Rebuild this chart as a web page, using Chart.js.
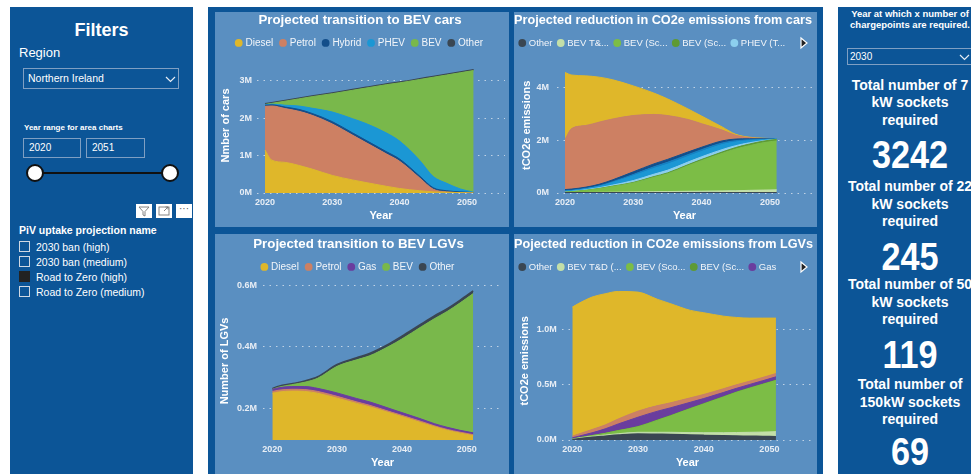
<!DOCTYPE html>
<html>
<head>
<meta charset="utf-8">
<title>BEV transition dashboard</title>
<script src="https://cdn.jsdelivr.net/npm/chart.js@4.4.1/dist/chart.umd.min.js"></script>
<style>
  html, body { margin: 0; padding: 0; }
  body { width: 971px; height: 474px; overflow: hidden; position: relative; background: #fff;
         font-family: 'Liberation Sans', Arial, sans-serif; color: #fff; }
  .panel { position: absolute; background: #0c5597; }
  .tile { position: absolute; background: #5a8fc1; }
  .tile canvas { display: block; }
  .abs { position: absolute; white-space: nowrap; }
  .box { position: absolute; box-sizing: border-box; border: 1px solid #7f9fc3; font-size: 10px; white-space: nowrap; }
  .chk { position: absolute; left: 19px; width: 11px; height: 11px; box-sizing: border-box; border: 1px solid #cfd8e3; }
  .chk-label { position: absolute; left: 36px; font-size: 10.5px; line-height: 14px; white-space: nowrap; }
  .icon { position: absolute; top: 204px; width: 16px; height: 14px; background: #fff; }
  .stat { position: absolute; left: 838px; width: 144px; text-align: center; font-weight: bold; font-size: 14px; line-height: 17.5px; }
  .num { position: absolute; left: 838px; width: 144px; text-align: center; font-weight: bold; font-size: 38px; line-height: 40px; transform: scaleX(0.9); }
</style>
</head>
<body>

<!-- filter panel -->
<div class="panel" style="left:10px; top:7px; width:183px; height:467px;"></div>
<div class="abs" style="left:10px; width:183px; top:19px; text-align:center; font-size:18px; font-weight:bold; line-height:22px;">Filters</div>
<div class="abs" style="left:19px; top:45px; font-size:13px; line-height:16px;">Region</div>
<div class="box" style="left:23px; top:68px; width:156px; height:21px; line-height:19px; padding-left:4px; font-size:10.5px;">Northern Ireland</div>
<svg class="abs" style="left:165px; top:76px;" width="11" height="7"><polyline points="1,1 5.5,5.5 10,1" fill="none" stroke="#e6edf5" stroke-width="1.2"/></svg>
<div class="abs" style="left:24px; top:123px; font-size:8px; font-weight:bold; line-height:10px;">Year range for area charts</div>
<div class="box" style="left:23px; top:138px; width:58px; height:20px; line-height:18px; padding-left:5px;">2020</div>
<div class="box" style="left:86px; top:138px; width:59px; height:20px; line-height:18px; padding-left:5px;">2051</div>
<div class="abs" style="left:35px; top:172px; width:135px; height:2px; background:#111;"></div>
<div class="abs" style="left:26px; top:164px; width:18px; height:18px; box-sizing:border-box; border:2px solid #111; border-radius:50%; background:#fff;"></div>
<div class="abs" style="left:161px; top:164px; width:18px; height:18px; box-sizing:border-box; border:2px solid #111; border-radius:50%; background:#fff;"></div>
<div class="icon" style="left:136px;"><svg width="16" height="14"><path d="M3,3 H13 L9,7.5 V12 L7,11 V7.5 Z" fill="none" stroke="#777" stroke-width="0.9"/></svg></div>
<div class="icon" style="left:156px;"><svg width="16" height="14"><rect x="3" y="3" width="10" height="8" fill="none" stroke="#777" stroke-width="0.9"/><path d="M8,7 L12,3 M9.5,3 H12 V5.5" fill="none" stroke="#777" stroke-width="0.9"/></svg></div>
<div class="icon" style="left:176px; color:#555; font-size:10px; line-height:10px; text-align:center;">&middot;&middot;&middot;</div>
<div class="abs" style="left:19px; top:223px; font-size:10.5px; font-weight:bold; line-height:14px;">PiV uptake projection name</div>
<div class="chk" style="top:241px;"></div><div class="chk-label" style="top:239.5px;">2030 ban (high)</div>
<div class="chk" style="top:256px;"></div><div class="chk-label" style="top:254.5px;">2030 ban (medium)</div>
<div class="chk" style="top:271px; background:#222; border-color:#222;"></div><div class="chk-label" style="top:269.5px;">Road to Zero (high)</div>
<div class="chk" style="top:286px;"></div><div class="chk-label" style="top:284.5px;">Road to Zero (medium)</div>

<!-- chart panel -->
<div class="panel" style="left:208px; top:7px; width:615px; height:467px;"></div>
<div class="tile" style="left:215px; top:12px; width:294px; height:215px;"><canvas id="carChart" width="294" height="215"></canvas></div>
<div class="tile" style="left:514px; top:12px; width:303px; height:215px;"><canvas id="carCo2Chart" width="303" height="215"></canvas></div>
<div class="tile" style="left:215px; top:234px; width:294px; height:240px;"><canvas id="lgvChart" width="294" height="240"></canvas></div>
<div class="tile" style="left:514px; top:234px; width:303px; height:240px;"><canvas id="lgvCo2Chart" width="303" height="240"></canvas></div>

<!-- chargepoint panel -->
<div class="panel" style="left:838px; top:7px; width:144px; height:467px;"></div>
<div class="abs" style="left:838px; width:144px; top:9px; text-align:center; font-size:9.5px; font-weight:bold; line-height:10.5px;">Year at which x number of<br>chargepoints are required.</div>
<div class="box" style="left:847px; top:48px; width:135px; height:17px; line-height:15px; padding-left:2px;">2030</div>
<svg class="abs" style="left:959px; top:54px;" width="11" height="7"><polyline points="1,1 5.5,5.5 10,1" fill="none" stroke="#e6edf5" stroke-width="1.2"/></svg>
<div class="stat" style="top:76.5px;">Total number of 7<br>kW sockets<br>required</div>
<div class="num" style="top:135px;">3242</div>
<div class="stat" style="top:178px;">Total number of 22<br>kW sockets<br>required</div>
<div class="num" style="top:236.7px;">245</div>
<div class="stat" style="top:276.3px;">Total number of 50<br>kW sockets<br>required</div>
<div class="num" style="top:335px;">119</div>
<div class="stat" style="top:376.3px;">Total number of<br>150kW sockets<br>required</div>
<div class="num" style="top:431.7px;">69</div>

<script>
const FONT = "'Liberation Sans', Arial, sans-serif";

// shared x values (years) for every area chart
const years = [2020, 2021, 2023, 2025, 2027, 2030, 2033, 2035, 2038, 2040, 2043, 2045, 2047, 2049, 2051];
const yearTicks = [2020, 2030, 2040, 2050];

// cars on the road, millions
const carSeries = ['Diesel', 'Petrol', 'Hybrid', 'PHEV', 'BEV', 'Other'];
const carDiesel = [1.15, 0.88, 0.82, 0.74, 0.64, 0.47, 0.35, 0.28, 0.18, 0.12, 0.06, 0.03, 0.02, 0.01, 0.0];
const carPetrol = [1.17, 1.45, 1.44, 1.45, 1.44, 1.38, 1.20, 1.07, 0.87, 0.73, 0.34, 0.07, 0.01, 0.0, 0.0];
const carHybrid = [0.03, 0.03, 0.04, 0.05, 0.05, 0.06, 0.06, 0.06, 0.06, 0.06, 0.05, 0.04, 0.03, 0.02, 0.01];
const carPhev = [0.01, 0.02, 0.05, 0.09, 0.14, 0.26, 0.38, 0.45, 0.50, 0.48, 0.42, 0.30, 0.20, 0.08, 0.01];
const carBev = [0.01, 0.02, 0.11, 0.19, 0.31, 0.49, 0.76, 0.95, 1.29, 1.56, 2.17, 2.66, 2.90, 3.11, 3.26];
const carOther = [0.02, 0.02, 0.02, 0.02, 0.02, 0.02, 0.02, 0.02, 0.02, 0.02, 0.02, 0.02, 0.02, 0.02, 0.02];
const carTicks = [0, 1, 2, 3];

// car emissions, million tCO2e
const carCo2Series = ['Other', 'BEV T&...', 'BEV (Sc...', 'BEV (Sc...', 'PHEV (T...', 'PHEV', 'PHEV ', 'Hybrid', 'Petrol', 'Diesel'];
const carCo2Other = [0.01, 0.01, 0.01, 0.01, 0.01, 0.01, 0.01, 0.01, 0.01, 0.01, 0.01, 0.01, 0.01, 0.01, 0.01];
const carCo2BevTd = [0.005, 0.007, 0.01, 0.015, 0.02, 0.03, 0.04, 0.045, 0.055, 0.06, 0.07, 0.075, 0.09, 0.10, 0.11];
const carCo2BevS1 = [0.013, 0.03, 0.075, 0.135, 0.215, 0.34, 0.54, 0.67, 0.965, 1.155, 1.42, 1.58, 1.69, 1.79, 1.85];
const carCo2BevS2 = [0.002, 0.003, 0.005, 0.01, 0.015, 0.02, 0.03, 0.035, 0.04, 0.045, 0.05, 0.055, 0.06, 0.06, 0.06];
const carCo2PhevTd = [0.01, 0.01, 0.02, 0.03, 0.04, 0.07, 0.09, 0.10, 0.10, 0.10, 0.09, 0.07, 0.05, 0.02, 0.005];
const carCo2PhevS1 = [0.03, 0.03, 0.04, 0.05, 0.10, 0.18, 0.22, 0.23, 0.21, 0.20, 0.19, 0.14, 0.08, 0.04, 0.007];
const carCo2PhevS2 = [0.01, 0.01, 0.01, 0.02, 0.03, 0.05, 0.06, 0.07, 0.07, 0.07, 0.06, 0.05, 0.03, 0.01, 0.003];
const carCo2Hybrid = [0.05, 0.05, 0.05, 0.06, 0.07, 0.10, 0.11, 0.11, 0.10, 0.09, 0.08, 0.06, 0.04, 0.02, 0.005];
const carCo2Petrol = [1.90, 2.29, 2.33, 2.35, 2.30, 2.13, 1.87, 1.66, 1.23, 0.89, 0.41, 0.14, 0.04, 0.01, 0.0];
const carCo2Diesel = [2.53, 2.02, 1.88, 1.70, 1.48, 1.12, 0.81, 0.63, 0.40, 0.29, 0.12, 0.04, 0.02, 0.01, 0.0];
const carCo2Ticks = [0, 2, 4];

// LGVs on the road, millions
const lgvSeries = ['Diesel', 'Petrol', 'Gas', 'BEV', 'Other'];
const lgvDiesel = [0.249, 0.253, 0.256, 0.255, 0.249, 0.233, 0.216, 0.205, 0.186, 0.173, 0.153, 0.140, 0.128, 0.119, 0.111];
const lgvPetrol = [0.006, 0.006, 0.006, 0.006, 0.006, 0.006, 0.005, 0.005, 0.004, 0.004, 0.004, 0.003, 0.003, 0.003, 0.003];
const lgvGas = [0.007, 0.008, 0.009, 0.010, 0.010, 0.011, 0.011, 0.011, 0.010, 0.009, 0.008, 0.007, 0.007, 0.006, 0.006];
const lgvBev = [0.0, 0.002, 0.006, 0.014, 0.033, 0.087, 0.126, 0.150, 0.202, 0.240, 0.301, 0.342, 0.378, 0.416, 0.454];
const lgvOther = [0.002, 0.003, 0.003, 0.004, 0.005, 0.006, 0.007, 0.008, 0.008, 0.009, 0.009, 0.009, 0.009, 0.009, 0.009];
const lgvTicks = [0.2, 0.4, 0.6];

// LGV emissions, million tCO2e
const lgvCo2Series = ['Other', 'BEV T&D (...', 'BEV (Sco...', 'BEV (Sc...', 'Gas', 'Petrol', 'Diesel'];
const lgvCo2Other = [0.005, 0.012, 0.025, 0.035, 0.045, 0.055, 0.052, 0.05, 0.045, 0.042, 0.038, 0.036, 0.034, 0.032, 0.03];
const lgvCo2BevTd = [0.003, 0.005, 0.008, 0.01, 0.012, 0.015, 0.018, 0.02, 0.022, 0.024, 0.028, 0.032, 0.036, 0.04, 0.046];
const lgvCo2BevS1 = [0.002, 0.003, 0.007, 0.015, 0.028, 0.05, 0.11, 0.15, 0.218, 0.261, 0.324, 0.365, 0.40, 0.433, 0.464];
const lgvCo2BevS2 = [0.0, 0.0, 0.0, 0.001, 0.001, 0.002, 0.002, 0.003, 0.003, 0.003, 0.003, 0.003, 0.003, 0.003, 0.003];
const lgvCo2Gas = [0.01, 0.015, 0.025, 0.04, 0.06, 0.085, 0.08, 0.07, 0.055, 0.046, 0.038, 0.033, 0.031, 0.03, 0.03];
const lgvCo2Petrol = [0.015, 0.02, 0.03, 0.035, 0.045, 0.055, 0.05, 0.045, 0.04, 0.037, 0.034, 0.032, 0.03, 0.03, 0.03];
const lgvCo2Diesel = [1.171, 1.185, 1.202, 1.191, 1.157, 1.08, 0.964, 0.898, 0.793, 0.742, 0.659, 0.611, 0.572, 0.538, 0.503];
const lgvCo2Ticks = [0, 0.5, 1.0];

const YELLOW = '#dfb72a', SALMON = '#cd8063', NAVY = '#134e8a', BLUE = '#1b97d4', GREEN = '#79b84b',
      DARK = '#3a4652', PURPLE = '#6a3d9e', PALEGREEN = '#c3dfa8', BRIGHTGREEN = '#7cbd46',
      DEEPGREEN = '#5e9a34', PALEBLUE = '#8ccfee', MIDBLUE = '#1581c2';

// small "more items" arrow that sits at the right end of a clipped legend
const legendArrow = {
    id: 'legendArrow',
    afterDraw: function (chart, args, opts) {
        if (!opts.show) return;
        const ctx = chart.ctx;
        const x = chart.width - 16;
        const y = opts.y;
        ctx.save();
        ctx.beginPath();
        ctx.moveTo(x, y - 5);
        ctx.lineTo(x + 6, y);
        ctx.lineTo(x, y + 5);
        ctx.closePath();
        ctx.fillStyle = '#222';
        ctx.fill();
        ctx.strokeStyle = '#fff';
        ctx.lineWidth = 1.2;
        ctx.stroke();
        ctx.restore();
    }
};

function stackedArea(id, o) {
    const datasets = o.series.map((name, i) => ({
        label: name,
        data: o.values[i].map((v, j) => ({ x: years[j], y: v })),
        backgroundColor: o.colors[i],
        borderColor: o.colors[i],
        borderWidth: name === 'Other' ? 1.5 : 1,
        fill: i === 0 ? 'origin' : '-1',
        pointRadius: 0,
        pointHoverRadius: 0,
        cubicInterpolationMode: 'monotone'
    }));

    const tickFont = { family: FONT, size: 9, weight: 'bold' };
    const titleFont = { family: FONT, size: 11, weight: 'bold' };
    const clipped = o.legendCount < o.series.length;

    return new Chart(document.getElementById(id), {
        type: 'line',
        data: { datasets: datasets },
        plugins: [legendArrow],
        options: {
            responsive: false,
            animation: false,
            events: [],
            layout: { padding: { top: o.padTop, right: o.padRight, left: 0, bottom: 0 } },
            plugins: {
                title: {
                    display: true,
                    text: o.title,
                    color: '#ffffff',
                    font: { family: FONT, size: 13.3, weight: 'bold' },
                    padding: { top: 0.5, bottom: clipped ? 3.3 : 1.5 }
                },
                legend: {
                    position: 'top',
                    align: clipped ? 'start' : 'center',
                    labels: {
                        color: '#f2f5f9',
                        font: { family: FONT, size: clipped ? 9.5 : 10 },
                        usePointStyle: true,
                        pointStyle: 'circle',
                        boxWidth: 3.5,
                        boxHeight: 5.5,
                        padding: clipped ? 6.5 : 8,
                        filter: item => item.datasetIndex < o.legendCount,
                        generateLabels: chart => Chart.defaults.plugins.legend.labels.generateLabels(chart)
                            .map(l => Object.assign(l, { lineWidth: 0 }))
                    }
                },
                tooltip: { enabled: false },
                legendArrow: { show: clipped, y: 31 + o.padTop }
            },
            scales: {
                x: {
                    type: 'linear',
                    min: o.xMin,
                    max: o.xMax,
                    afterBuildTicks: s => { s.ticks = yearTicks.map(v => ({ value: v })); },
                    afterFit: s => { s.height = 34; },
                    grid: { display: false, drawTicks: false },
                    border: { display: false },
                    ticks: { color: '#e8eef5', font: tickFont, padding: 4, maxRotation: 0, autoSkip: false,
                             callback: v => String(v) },
                    title: { display: true, text: 'Year', color: '#ffffff', font: titleFont,
                             padding: { top: 0, bottom: 4 } }
                },
                y: {
                    stacked: true,
                    min: o.yMin,
                    max: o.yMax,
                    afterBuildTicks: s => { s.ticks = o.yTicks.map(v => ({ value: v })); },
                    afterFit: s => { s.width = o.yWidth; },
                    grid: { color: 'rgba(225,232,240,0.75)', lineWidth: 1, drawTicks: false },
                    border: { display: false, dash: [1.5, 5] },
                    ticks: { color: '#e8eef5', font: tickFont, padding: o.yTickPad, autoSkip: false,
                             callback: v => v.toFixed(o.decimals) + 'M' },
                    title: { display: true, text: o.yTitle, color: '#ffffff', font: titleFont,
                             padding: { top: o.yTitlePad, bottom: 0 } }
                }
            }
        }
    });
}

stackedArea('carChart', {
    title: 'Projected transition to BEV cars',
    yTitle: 'Nmber of cars',
    series: carSeries,
    values: [carDiesel, carPetrol, carHybrid, carPhev, carBev, carOther],
    colors: [YELLOW, SALMON, NAVY, BLUE, GREEN, DARK],
    legendCount: 6,
    padTop: 0, padRight: 4, yWidth: 42, yTickPad: 5, yTitlePad: 4.4,
    xMin: 2018.81, xMax: 2055.66,
    yMin: 0, yMax: 3.616, yTicks: carTicks, decimals: 0
});

stackedArea('carCo2Chart', {
    title: 'Projected reduction in CO2e emissions from cars',
    yTitle: 'tCO2e emissions',
    series: carCo2Series,
    values: [carCo2Other, carCo2BevTd, carCo2BevS1, carCo2BevS2, carCo2PhevTd, carCo2PhevS1,
             carCo2PhevS2, carCo2Hybrid, carCo2Petrol, carCo2Diesel],
    colors: [DARK, PALEGREEN, BRIGHTGREEN, DEEPGREEN, PALEBLUE, BLUE, MIDBLUE, NAVY, SALMON, YELLOW],
    legendCount: 5,
    padTop: 0, padRight: 5, yWidth: 43, yTickPad: 8, yTitlePad: 6.4,
    xMin: 2018.83, xMax: 2056.16,
    yMin: 0, yMax: 5.114, yTicks: carCo2Ticks, decimals: 0
});

stackedArea('lgvChart', {
    title: 'Projected transition to BEV LGVs',
    yTitle: 'Number of LGVs',
    series: lgvSeries,
    values: [lgvDiesel, lgvPetrol, lgvGas, lgvBev, lgvOther],
    colors: [YELLOW, SALMON, PURPLE, GREEN, DARK],
    legendCount: 5,
    padTop: 2, padRight: 7, yWidth: 48, yTickPad: 6, yTitlePad: 3.4,
    xMin: 2018.56, xMax: 2055.45,
    yMin: 0.0966, yMax: 0.612, yTicks: lgvTicks, decimals: 1
});

stackedArea('lgvCo2Chart', {
    title: 'Pojected reduction in CO2e emissions from LGVs',
    yTitle: 'tCO2e emissions',
    series: lgvCo2Series,
    values: [lgvCo2Other, lgvCo2BevTd, lgvCo2BevS1, lgvCo2BevS2, lgvCo2Gas, lgvCo2Petrol, lgvCo2Diesel],
    colors: [DARK, PALEGREEN, BRIGHTGREEN, DEEPGREEN, PURPLE, SALMON, YELLOW],
    legendCount: 5,
    padTop: 2, padRight: 4, yWidth: 48, yTickPad: 5.3, yTitlePad: 4.4,
    xMin: 2018.43, xMax: 2056.64,
    yMin: 0, yMax: 1.436, yTicks: lgvCo2Ticks, decimals: 1
});
</script>
</body>
</html>
